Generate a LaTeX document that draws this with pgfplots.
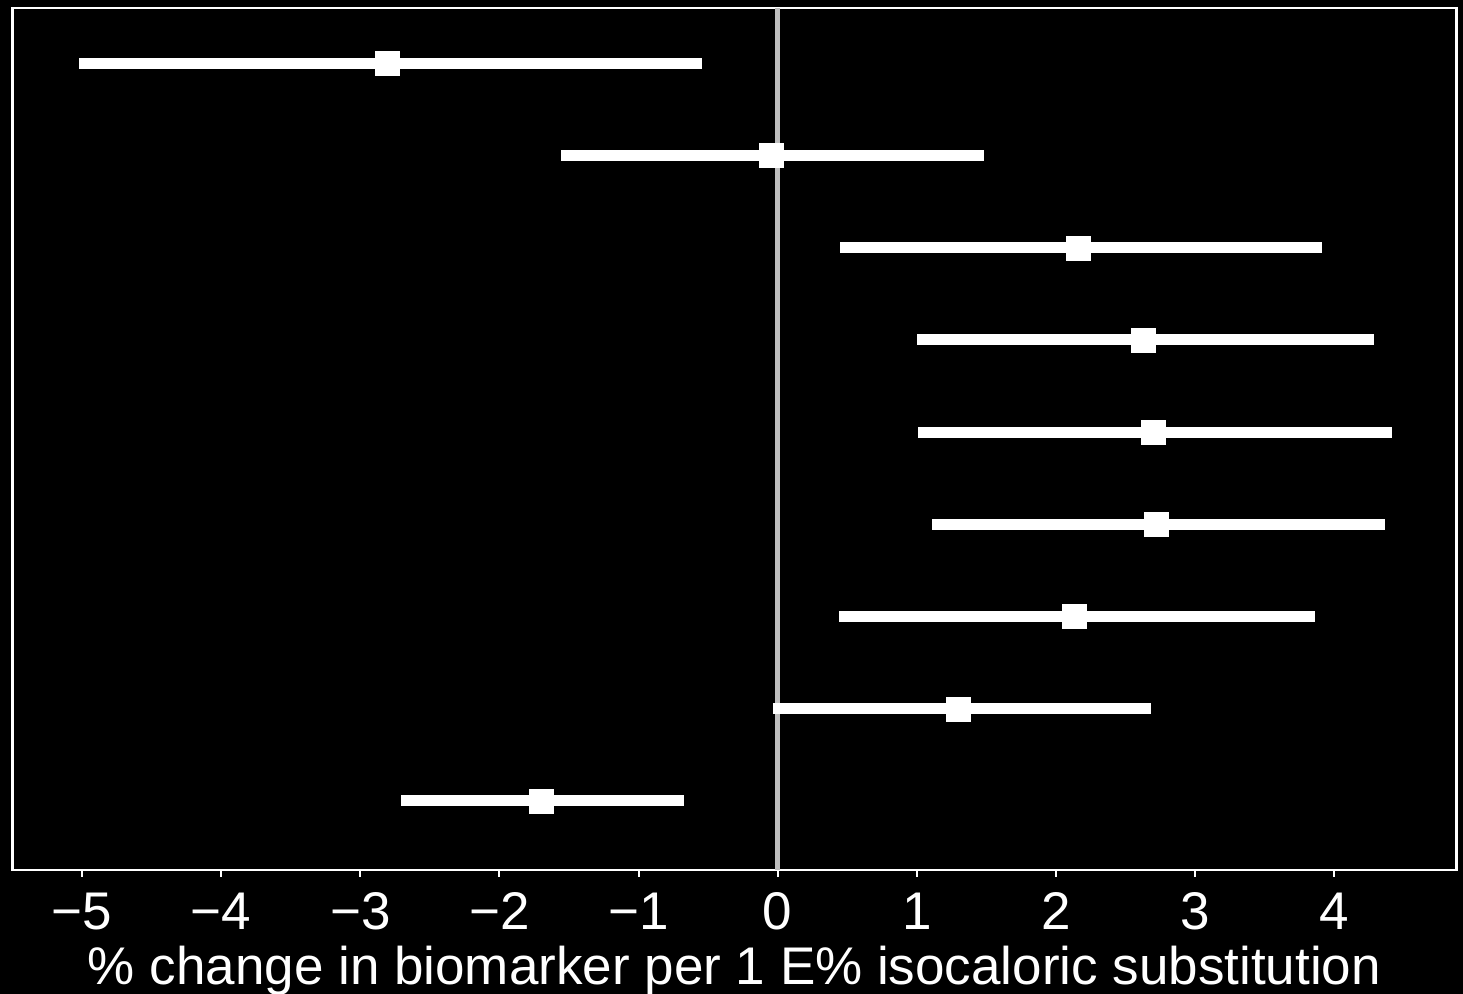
\documentclass[border=0pt]{standalone}
\usepackage{pgfplots}
\pgfplotsset{compat=1.18}
\usepackage{pgfplotstable}
\usepackage{fontspec}
\setmainfont{Liberation Sans}

\definecolor{zeroline}{RGB}{190,190,190}

% estimate with lower and upper limit, one row per substitution (top row = 9)
\pgfplotstableread{
row  est    lo     hi
9   -2.81  -5.02  -0.545
8   -0.05  -1.56   1.48
7    2.16   0.445  3.91
6    2.63   1.005  4.29
5    2.70   1.012  4.415
4    2.72   1.11   4.365
3    2.13   0.44   3.865
2    1.30  -0.035  2.683
1   -1.70  -2.707 -0.672
}\estimates

\begin{document}
\begin{tikzpicture}
\fill[black] (0,0) rectangle (731.5pt,497pt);
\path[use as bounding box] (0,0) rectangle (731.5pt,497pt);
\begin{axis}[
  at={(6.25pt,493pt)}, anchor=north west,
  scale only axis, width=722pt, height=431pt,
  xmin=-5.50, xmax=4.88, ymin=0.25, ymax=9.6,
  axis line style={white, line width=1.25pt},
  xtick={-5,-4,-3,-2,-1,0,1,2,3,4},
  xticklabels={−5,−4,−3,−2,−1,0,1,2,3,4},
  ytick=\empty,
  xtick pos=bottom, tick align=outside,
  major tick length=3.3pt,
  tick style={white, line width=1pt},
  ticklabel style={text=white, font=\fontsize{26.5pt}{31pt}\selectfont},
  xticklabel style={yshift=-4.5pt},
  xlabel={\% change in biomarker per 1 E\% isocaloric substitution},
  xlabel style={text=white, font=\fontsize{26.5pt}{31pt}\selectfont,
    at={(axis description cs:0.5,0)}, anchor=base, yshift=-57pt},
  clip=false,
]
% reference line at zero
\addplot[zeroline, line width=2.3pt, forget plot] coordinates {(0,0.25) (0,9.6)};
% intervals and point estimates
\addplot[
  only marks, mark=square*, mark size=6pt,
  mark options={draw=white, line width=0.1pt, fill=white},
  error bars/.cd,
    x dir=both, x explicit,
    error mark=none,
    error bar style={white, line width=5.5pt},
] table[
  x=est, y=row,
  x error plus expr=\thisrow{hi}-\thisrow{est},
  x error minus expr=\thisrow{est}-\thisrow{lo},
] {\estimates};
\end{axis}
\end{tikzpicture}
\end{document}
